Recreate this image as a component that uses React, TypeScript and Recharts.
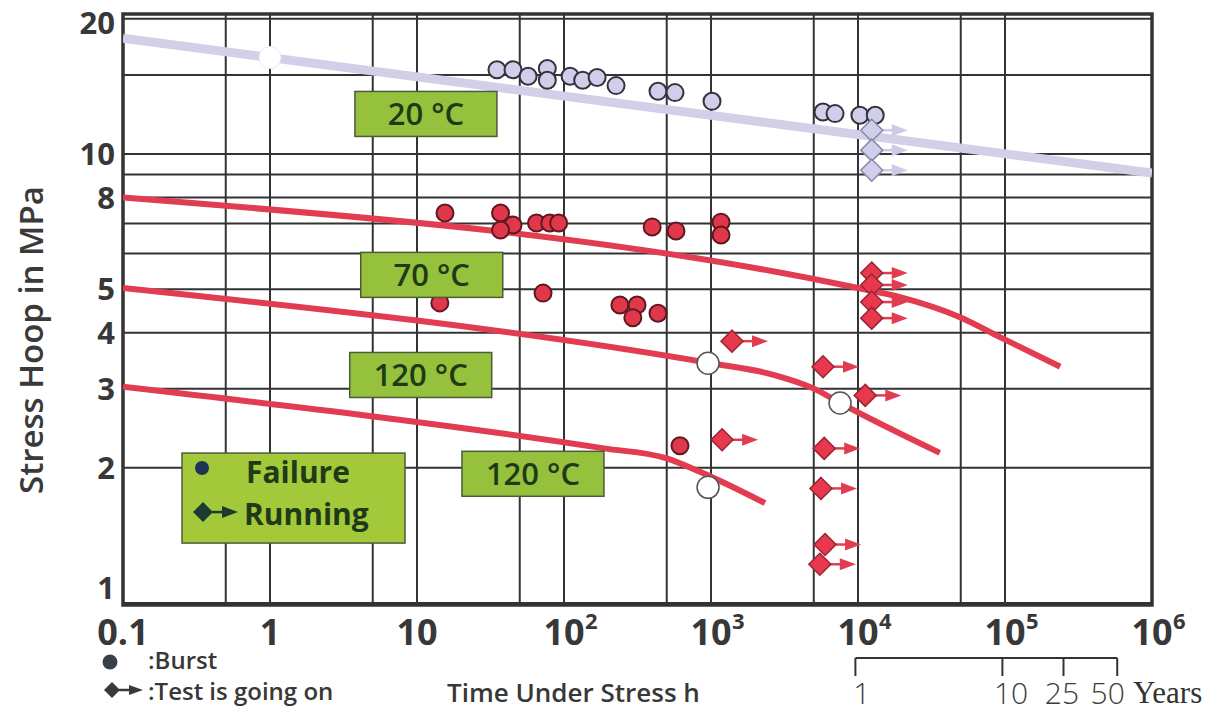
import React from "react";
import {
  ComposedChart,
  Line,
  Scatter,
  XAxis,
  YAxis,
  CartesianGrid,
  ReferenceArea,
  ReferenceDot,
  ReferenceLine,
} from "recharts";

// axis ticks (grid lines) and the ones that carry a label
const xGridTicks = [0.1, 0.5, 1, 5, 10, 50, 100, 500, 1000, 5000, 1e4, 5e4, 1e5, 1e6];
const xLabelTicks = [0.1, 1, 10, 100, 1000, 1e4, 1e5, 1e6];
const yGridTicks = [1, 2, 3, 4, 5, 6, 7, 8, 9, 10, 15, 20];
const yLabelTicks = [1, 2, 3, 4, 5, 8, 10, 20];

// years scale under the time axis (tick position in hours, label position in hours, label)
const yearHours = [9600, 96000, 250000, 580000];
const yearLabelHours = [10600, 110000, 244000, 500000];
const yearLabels = ["1", "10", "25", "50"];
const yearBracketTop = 0.754;
const yearBracketTick = 0.688;
const yearLabelLevel = 0.63;

// regression curves
const curve20 = [
  { x: 0.1, y: 18.1 },
  { x: 1e6, y: 9.07 },
];
const curve70 = [
  { x: 0.1, y: 8.0 },
  { x: 1e4, y: 5.03 },
  { x: 1.93e4, y: 4.8 },
  { x: 4.94e4, y: 4.33 },
  { x: 9.25e4, y: 3.91 },
  { x: 2.37e5, y: 3.36 },
];
const curve120a = [
  { x: 0.1, y: 5.03 },
  { x: 1000, y: 3.42 },
  { x: 2400, y: 3.25 },
  { x: 5250, y: 2.98 },
  { x: 7550, y: 2.79 },
  { x: 3.6e4, y: 2.16 },
];
const curve120b = [
  { x: 0.1, y: 3.03 },
  { x: 187, y: 2.21 },
  { x: 500, y: 2.1 },
  { x: 841, y: 1.96 },
  { x: 1117, y: 1.88 },
  { x: 2330, y: 1.67 },
];

// test points
const burst20 = [
  { x: 35, y: 15.4 }, { x: 45, y: 15.4 }, { x: 57, y: 14.9 }, { x: 77, y: 15.5 },
  { x: 77, y: 14.6 }, { x: 110, y: 14.9 }, { x: 134, y: 14.6 }, { x: 168, y: 14.8 },
  { x: 226, y: 14.2 }, { x: 436, y: 13.8 }, { x: 569, y: 13.7 }, { x: 1016, y: 13.1 },
  { x: 5780, y: 12.4 }, { x: 6980, y: 12.3 }, { x: 10300, y: 12.2 }, { x: 13100, y: 12.2 },
];
const running20 = [
  { x: 12400, y: 11.3 }, { x: 12400, y: 10.2 }, { x: 12400, y: 9.2 },
];
const burstRed = [
  { x: 15.5, y: 7.39 }, { x: 37, y: 7.39 }, { x: 45, y: 6.95 }, { x: 37, y: 6.77 },
  { x: 65, y: 7.02 }, { x: 80, y: 7.02 }, { x: 92, y: 7.02 }, { x: 398, y: 6.88 },
  { x: 578, y: 6.74 }, { x: 1170, y: 7.05 }, { x: 1170, y: 6.6 },
  { x: 14.3, y: 4.66 }, { x: 72, y: 4.9 }, { x: 240, y: 4.61 }, { x: 314, y: 4.61 },
  { x: 294, y: 4.32 }, { x: 436, y: 4.42 }, { x: 615, y: 2.24 },
];
const runningRed = [
  { x: 12400, y: 5.43 }, { x: 12400, y: 5.11 }, { x: 12400, y: 4.68 }, { x: 12400, y: 4.31 },
  { x: 1390, y: 3.83 }, { x: 1190, y: 2.31 }, { x: 5780, y: 3.36 }, { x: 11200, y: 2.9 },
  { x: 5890, y: 2.21 }, { x: 5600, y: 1.8 }, { x: 5970, y: 1.35 }, { x: 5500, y: 1.22 },
];
const openOnLine20 = [{ x: 1, y: 16.4 }];
const openOnRed = [
  { x: 955, y: 3.42 }, { x: 7550, y: 2.79 }, { x: 955, y: 1.81 },
];

// temperature tags and legend box anchors
const tags = [
  { x: 11.5, y: 12.28, text: "20 °C" },
  { x: 12.6, y: 5.38, text: "70 °C" },
  { x: 10.6, y: 3.22, text: "120 °C" },
  { x: 61.5, y: 1.94, text: "120 °C" },
];
const legendAnchor = { x: 1.445, y: 1.713 };

const FONT = '"Open Sans", "Noto Sans", sans-serif';
const INK = "#383838";
const TAG_GREEN = "#95c13c";
const LEGEND_GREEN = "#a3c83a";
const TAG_TEXT = "#1f3a18";
const RED = "#e23c50";
const LAVENDER = "#d3cfe9";

const XTick = (props: any) => {
  const { x, y, payload } = props;
  const v = payload.value;
  if (!xLabelTicks.includes(v)) return <g />;
  const exp = Math.round(Math.log10(v));
  if (exp <= 1) {
    return (
      <text x={x} y={y} dy={32} textAnchor="middle" fontSize={36} fontWeight={700} fill={INK} fontFamily={FONT}>
        {v === 0.1 ? "0.1" : String(v)}
      </text>
    );
  }
  return (
    <g fontFamily={FONT} fill={INK} fontWeight={700}>
      <text x={x} y={y} dy={32} textAnchor="middle" fontSize={36}>10</text>
      <text x={x + 21} y={y} dy={16} textAnchor="start" fontSize={22}>{exp}</text>
    </g>
  );
};

const YTick = (props: any) => {
  const { x, y, payload } = props;
  const v = payload.value;
  if (!yLabelTicks.includes(v)) return <g />;
  const shift = v === 1 ? -15 : v === 20 ? 4 : 0;
  return (
    <text x={x} y={y + shift} dy={11} textAnchor="end" fontSize={31} fontWeight={700} fill={INK} fontFamily={FONT}>
      {v}
    </text>
  );
};

const yearLabelShape = (text: string) => (p: any) => (
  <text x={p.cx} y={p.cy} dy={11} textAnchor="middle" fontSize={30} fontWeight={300} fill="#3c3c3c" fontFamily={FONT}>
    {text}
  </text>
);

const circleShape = (fill: string, stroke: string, r: number, sw: number) => (p: any) => (
  <circle cx={p.cx} cy={p.cy} r={r} fill={fill} stroke={stroke} strokeWidth={sw} />
);

const runningShape = (fill: string, stroke: string, arrow: string) => (p: any) => {
  const { cx, cy } = p;
  const s = 11;
  return (
    <g>
      <line x1={cx + s - 2} y1={cy} x2={cx + 22} y2={cy} stroke={arrow} strokeWidth={2.5} />
      <polygon points={`${cx + 20},${cy - 6} ${cx + 36},${cy} ${cx + 20},${cy + 6}`} fill={arrow} />
      <polygon
        points={`${cx},${cy - s} ${cx + s},${cy} ${cx},${cy + s} ${cx - s},${cy}`}
        fill={fill}
        stroke={stroke}
        strokeWidth={1.5}
      />
    </g>
  );
};

const tagShape = (text: string) => (p: any) => {
  const w = 142;
  const h = 45;
  return (
    <g>
      <rect x={p.cx - w / 2} y={p.cy - h / 2} width={w} height={h} fill={TAG_GREEN} stroke="#4d5a3c" strokeWidth={1.5} />
      <text x={p.cx} y={p.cy} dy={11} textAnchor="middle" fontSize={31} fontWeight={600} fill={TAG_TEXT} fontFamily={FONT}>
        {text}
      </text>
    </g>
  );
};

const legendShape = (p: any) => {
  const w = 223;
  const h = 90;
  const left = p.cx - w / 2;
  const top = p.cy - h / 2;
  return (
    <g fontFamily={FONT} fill={TAG_TEXT} fontWeight={700} fontSize={30}>
      <rect x={left} y={top} width={w} height={h} fill={LEGEND_GREEN} stroke="#4d5a3c" strokeWidth={1.5} />
      <circle cx={left + 20} cy={top + 15} r={7} fill="#1d3550" />
      <text x={left + 64} y={top + 30}>Failure</text>
      <polygon points={`${left + 21},${top + 49} ${left + 31},${top + 59} ${left + 21},${top + 69} ${left + 11},${top + 59}`} fill="#1d3a30" />
      <line x1={left + 30} y1={top + 59} x2={left + 42} y2={top + 59} stroke="#1d3a30" strokeWidth={2.5} />
      <polygon points={`${left + 40},${top + 53} ${left + 56},${top + 59} ${left + 40},${top + 65}`} fill="#1d3a30" />
      <text x={left + 62} y={top + 72}>Running</text>
    </g>
  );
};

export default function App() {
  return (
    <div style={{ position: "relative", width: 1217, height: 715, background: "#fff", fontFamily: FONT }}>
      <style>{`body{margin:0;}`}</style>
      <ComposedChart width={1217} height={715} margin={{ top: 14, right: 65, bottom: 0, left: 0 }}>
        <CartesianGrid stroke="#333" strokeWidth={2} />
        <XAxis
          dataKey="x"
          type="number"
          scale="log"
          domain={[0.1, 1e6]}
          allowDataOverflow
          ticks={xGridTicks}
          interval={0}
          tick={<XTick />}
          tickLine={false}
          axisLine={false}
          height={110}
        />
        <YAxis
          dataKey="y"
          type="number"
          scale="log"
          domain={[0.99, 20.5]}
          allowDataOverflow
          ticks={yGridTicks}
          interval={0}
          tick={<YTick />}
          tickLine={false}
          axisLine={false}
          width={123}
        />
        <ReferenceArea
          x1={0.1}
          x2={1e6}
          y1={0.99}
          y2={20.5}
          fill="none"
          stroke="#333"
          strokeWidth={3.5}
          ifOverflow="visible"
        />

        {/* years bracket under the hours axis */}
        <ReferenceLine
          segment={[
            { x: yearHours[0], y: yearBracketTop },
            { x: yearHours[yearHours.length - 1], y: yearBracketTop },
          ]}
          stroke="#333"
          strokeWidth={2}
          ifOverflow="visible"
        />
        {yearHours.map((h, i) => (
          <ReferenceLine
            key={`yt${i}`}
            segment={[
              { x: h, y: yearBracketTop },
              { x: h, y: yearBracketTick },
            ]}
            stroke="#333"
            strokeWidth={2}
            ifOverflow="visible"
          />
        ))}
        {yearLabelHours.map((h, i) => (
          <ReferenceDot key={`yl${i}`} x={h} y={yearLabelLevel} ifOverflow="visible" shape={yearLabelShape(yearLabels[i])} />
        ))}

        <Line data={curve20} dataKey="y" type="linear" stroke={LAVENDER} strokeWidth={9} dot={false} isAnimationActive={false} />
        <Line data={curve70} dataKey="y" type="monotone" stroke={RED} strokeWidth={6} dot={false} isAnimationActive={false} />
        <Line data={curve120a} dataKey="y" type="monotone" stroke={RED} strokeWidth={6} dot={false} isAnimationActive={false} />
        <Line data={curve120b} dataKey="y" type="monotone" stroke={RED} strokeWidth={6} dot={false} isAnimationActive={false} />

        <Scatter data={burst20} shape={circleShape("#d0cee9", "#33333d", 8.5, 2)} isAnimationActive={false} />
        <Scatter data={running20} shape={runningShape("#d0cee9", "#8a88a8", "#cdc9e6")} isAnimationActive={false} />
        <Scatter data={burstRed} shape={circleShape("#e0374b", "#5e1820", 8.5, 2)} isAnimationActive={false} />
        <Scatter data={runningRed} shape={runningShape("#e8384d", "#9a2535", RED)} isAnimationActive={false} />
        <Scatter data={openOnLine20} shape={circleShape("#ffffff", "#e8e8ee", 11, 1)} isAnimationActive={false} />
        <Scatter data={openOnRed} shape={circleShape("#ffffff", "#555", 11, 1.5)} isAnimationActive={false} />

        {tags.map((t, i) => (
          <ReferenceDot key={i} x={t.x} y={t.y} shape={tagShape(t.text)} />
        ))}
        <ReferenceDot x={legendAnchor.x} y={legendAnchor.y} shape={legendShape} />
      </ComposedChart>

      <div
        style={{
          position: "absolute",
          left: 30,
          top: 340,
          transform: "translate(-50%, -50%) rotate(-90deg)",
          whiteSpace: "nowrap",
          fontSize: 33,
          fontWeight: 600,
          color: "#3a3a3a",
        }}
      >
        Stress Hoop in MPa
      </div>
      <div
        style={{ position: "absolute", left: 447, top: 678, fontSize: 26, lineHeight: "28px", fontWeight: 600, color: INK, whiteSpace: "nowrap" }}
      >
        Time Under Stress h
      </div>
      <svg style={{ position: "absolute", left: 95, top: 650 }} width={55} height={55}>
        <circle cx={15} cy={12} r={7.5} fill="#3a4049" />
        <polygon points="17,32 25,40 17,48 9,40" fill="#3a3a3a" />
        <line x1={24} y1={40} x2={36} y2={40} stroke="#3a3a3a" strokeWidth={2.5} />
        <polygon points="34,35 48,40 34,45" fill="#3a3a3a" />
      </svg>
      <div
        style={{ position: "absolute", left: 148, top: 647, fontSize: 24, lineHeight: "26px", fontWeight: 600, color: INK, whiteSpace: "nowrap" }}
      >
        :Burst
      </div>
      <div
        style={{ position: "absolute", left: 148, top: 678, fontSize: 24, lineHeight: "26px", fontWeight: 600, color: INK, whiteSpace: "nowrap" }}
      >
        :Test is going on
      </div>
      <div
        style={{
          position: "absolute",
          left: 1133,
          top: 676,
          fontSize: 31,
          lineHeight: "34px",
          fontFamily: '"Liberation Serif", "DejaVu Serif", serif',
          color: "#333",
          whiteSpace: "nowrap",
        }}
      >
        Years
      </div>
    </div>
  );
}
